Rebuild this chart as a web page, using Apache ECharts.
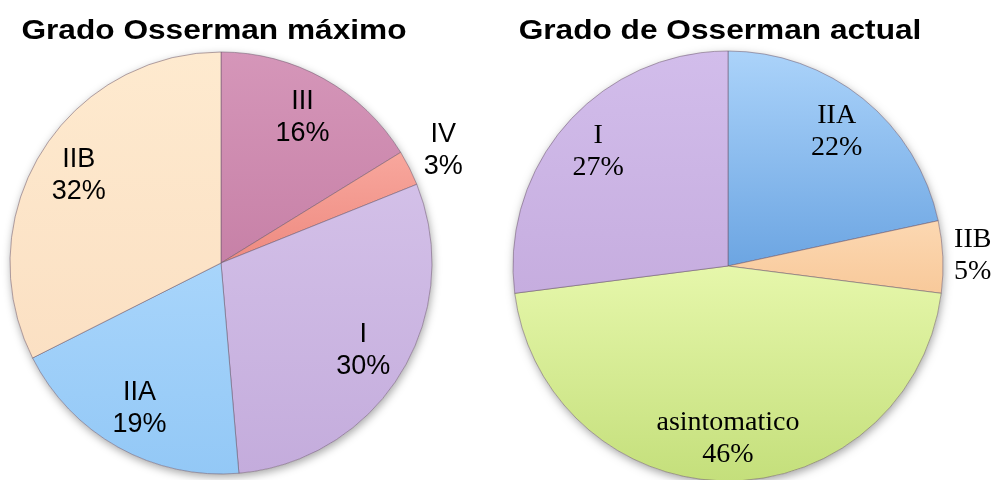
<!DOCTYPE html>
<html><head><meta charset="utf-8">
<script src="https://cdn.jsdelivr.net/npm/echarts@6/dist/echarts.min.js"></script>
<style>html,body{margin:0;padding:0;background:#fff}#c{width:992px;height:480px}</style>
</head><body><div id="c"></div>
<script>
// Left chart: Grado Osserman máximo (counts, n = 37)
const maxTitle = 'Grado Osserman máximo';
const maxCategories = ['III', 'IV', 'I', 'IIA', 'IIB'];
const maxValues = [6, 1, 11, 7, 12];
const maxOutside = ['IV'];
// Right chart: Grado de Osserman actual (counts, n = 37)
const actTitle = 'Grado de Osserman actual';
const actCategories = ['IIA', 'IIB', 'asintomatico', 'I'];
const actValues = [8, 2, 17, 10];
const actOutside = ['IIB'];

const maxColors = {
  'III': ['#d596b9', '#c781a7'],
  'IV': ['#f8a79d', '#ee8a80'],
  'I': ['#d3c0e8', '#c4acdc'],
  'IIA': ['#a8d5fb', '#93c8f6'],
  'IIB': ['#feeacf', '#fbe0c3']
};
const actColors = {
  'IIA': ['#abd3fa', '#6ca5e2'],
  'IIB': ['#fcd8b2', '#f8c99a'],
  'asintomatico': ['#e6f7ab', '#c4df7b'],
  'I': ['#d2bdeb', '#c6addf']
};

function grad(c) {
  return new echarts.graphic.LinearGradient(0, 0, 0, 1, [
    { offset: 0, color: c[0] }, { offset: 1, color: c[1] }
  ]);
}

function buildSeries(cats, vals, colors, outside, center, R, innerLabelR, outerLabelR, font) {
  const lbl = {
    fontFamily: font, fontSize: font.indexOf('Serif') >= 0 ? 28 : 27,
    color: '#000', lineHeight: 32, formatter: '{b}\n{d}%'
  };
  const base = {
    type: 'pie', center: center, radius: [0, R], startAngle: 90, clockwise: true,
    percentPrecision: 0, silent: true, animation: false
  };
  return [
    Object.assign({}, base, {
      radius: [0, R],
      data: [{ value: 1, name: '' }],
      itemStyle: { color: '#fff', shadowBlur: 8, shadowColor: 'rgba(0,0,0,0.35)', shadowOffsetY: 3, shadowOffsetX: 1 },
      label: { show: false }, labelLine: { show: false }
    }),
    Object.assign({}, base, {
      data: cats.map((n, i) => ({ name: n, value: vals[i], itemStyle: { color: grad(colors[n]) } })),
      itemStyle: { borderColor: 'rgba(110,90,110,0.55)', borderWidth: 1 },
      label: { show: false }, labelLine: { show: false }
    }),
    Object.assign({}, base, {
      radius: [2 * innerLabelR - R, R],
      data: cats.map((n, i) => ({ name: n, value: vals[i], label: { show: outside.indexOf(n) < 0 } })),
      itemStyle: { color: 'rgba(0,0,0,0)' },
      label: Object.assign({ show: true, position: 'inside' }, lbl),
      labelLine: { show: false }
    }),
    Object.assign({}, base, {
      radius: [R, 2 * outerLabelR - R],
      data: cats.map((n, i) => ({ name: n, value: vals[i], label: { show: outside.indexOf(n) >= 0 } })),
      itemStyle: { color: 'rgba(0,0,0,0)' },
      label: Object.assign({ show: true, position: 'inside' }, lbl),
      labelLine: { show: false }
    })
  ];
}

const titleFont = 'bold 28px "Liberation Sans", Arial, sans-serif';
const chart = echarts.init(document.getElementById('c'), null, { renderer: 'canvas' });
chart.setOption({
  backgroundColor: '#fff',
  animation: false,
  graphic: [
    { type: 'text', x: 214, y: 17, scaleX: 1.13, silent: true,
      style: { text: maxTitle, font: titleFont, fill: '#000', align: 'center', verticalAlign: 'top' } },
    { type: 'text', x: 720, y: 17, scaleX: 1.13, silent: true,
      style: { text: actTitle, font: titleFont, fill: '#000', align: 'center', verticalAlign: 'top' } }
  ],
  series: [].concat(
    buildSeries(maxCategories, maxValues, maxColors, maxOutside, [221, 263], 211, 164, 246, 'Liberation Sans, Arial, sans-serif'),
    buildSeries(actCategories, actValues, actColors, actOutside, [728, 266], 215, 170, 242, 'Liberation Serif, Times New Roman, serif')
  )
});
</script>
</body></html>
